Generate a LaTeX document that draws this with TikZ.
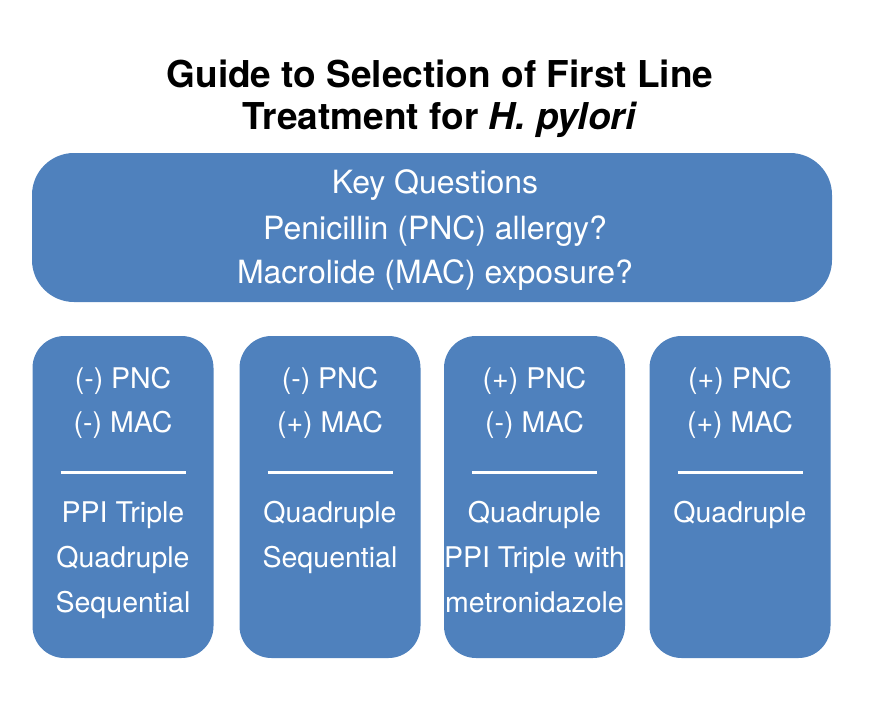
\documentclass[tikz,border=0pt]{standalone}
\usepackage{fontspec}
\setmainfont{TeX Gyre Heros}
\definecolor{boxblue}{RGB}{79,129,189}
\begin{document}
\begin{tikzpicture}[x=1pt,y=-1pt,
  bigbox/.style={fill=boxblue, draw=none, rounded corners=42pt, minimum width=800pt, minimum height=149pt, inner sep=0pt},
  colbox/.style={fill=boxblue, draw=none, rounded corners=32pt, minimum width=181pt, minimum height=322pt, inner sep=0pt},
  wtext/.style={text=white, anchor=base, inner sep=0pt, font=\fontsize{28.5}{45}\selectfont},
  ktext/.style={text=white, anchor=base, inner sep=0pt, font=\fontsize{32}{46}\selectfont},
  ttext/.style={text=black, anchor=base, inner sep=0pt, font=\fontsize{37}{42}\selectfont\bfseries},
  rule/.style={draw=white, line width=3pt}
]
\useasboundingbox (0,0) rectangle (887,712);
\node[ttext] (t1) at (440,87) {Guide to Selection of First Line};
\node[ttext] (t2) at (440,129) {Treatment for \textit{H. pylori}};
\node[bigbox] (key) at (432,227.5) {};
\node[ktext] (k1) at (435,193) {Key Questions};
\node[ktext] (k2) at (435,239) {Penicillin (PNC) allergy?};
\node[ktext] (k3) at (435,283) {Macrolide (MAC) exposure?};
\foreach \i/\cx/\ha/\hb/\ta/\tb/\tc in {
  1/123/(-) PNC/(-) MAC/PPI Triple/Quadruple/Sequential,
  2/330/(-) PNC/(+) MAC/Quadruple/Sequential/,
  3/534.5/(+) PNC/(-) MAC/Quadruple/PPI Triple with/metronidazole,
  4/740/(+) PNC/(+) MAC/Quadruple//}{
  \node[colbox] (c\i) at (\cx,497) {};
  \node[wtext] (c\i h1) at (\cx,388) {\ha};
  \node[wtext] (c\i h2) at (\cx,432) {\hb};
  \coordinate (c\i l) at (\cx-62.5,472);
  \coordinate (c\i r) at (\cx+62.5,472);
  \draw[rule] (c\i l) -- (c\i r);
  \node[wtext] (c\i a) at (\cx,522) {\ta};
  \node[wtext] (c\i b) at (\cx,567) {\tb};
  \node[wtext] (c\i c) at (\cx,612) {\tc};
}
\end{tikzpicture}
\end{document}
